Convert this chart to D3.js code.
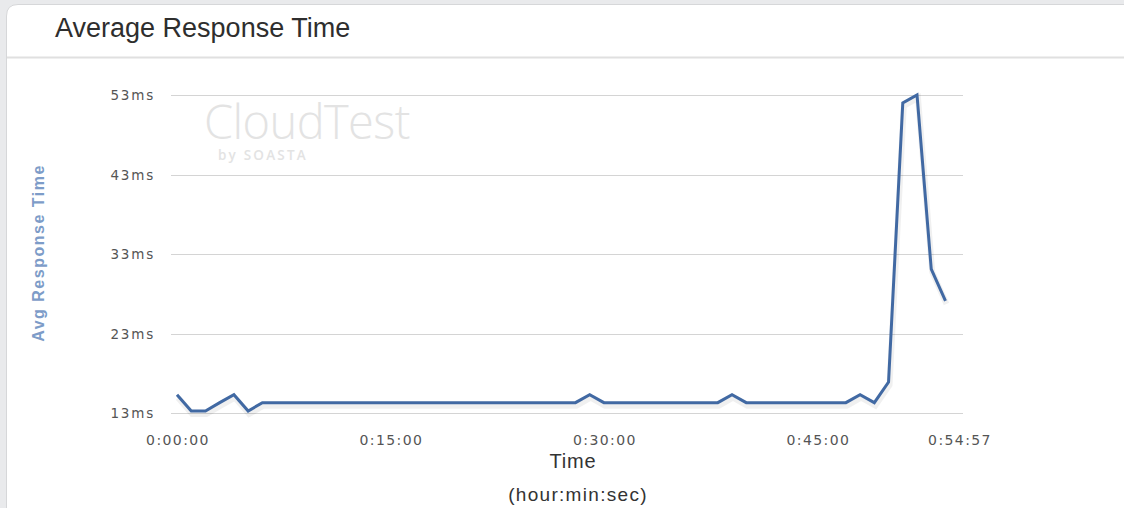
<!DOCTYPE html>
<html>
<head>
<meta charset="utf-8">
<script src="https://cdn.jsdelivr.net/npm/d3@7.9.0/dist/d3.min.js"></script>
<style>
  html, body { margin: 0; padding: 0; background: #e9eaec; }
  svg { display: block; }
</style>
</head>
<body>
<svg id="chart" width="1124" height="508"></svg>
<script>
// minutes since start of the test
const minutes = d3.range(0, 55);
// average response time in ms, one sample per minute
const avgMs = [
  15.3, 13.25, 13.25, 14.3, 15.3, 13.25, 14.3, 14.3, 14.3, 14.3,
  14.3, 14.3, 14.3, 14.3, 14.3, 14.3, 14.3, 14.3, 14.3, 14.3,
  14.3, 14.3, 14.3, 14.3, 14.3, 14.3, 14.3, 14.3, 14.3, 15.3,
  14.3, 14.3, 14.3, 14.3, 14.3, 14.3, 14.3, 14.3, 14.3, 15.3,
  14.3, 14.3, 14.3, 14.3, 14.3, 14.3, 14.3, 14.3, 15.3, 14.3,
  16.9, 52.0, 53.0, 31.1, 27.1
];
const yTicks = [13, 23, 33, 43, 53];
const xTickSecs = [0, 900, 1800, 2700, 3297];
const xTickLabels = ['0:00:00', '0:15:00', '0:30:00', '0:45:00', '0:54:57'];

const svg = d3.select('#chart');
const font = '"Liberation Sans", Arial, Helvetica, sans-serif';
const tickFont = '"DejaVu Sans", Verdana, sans-serif';

// panel card
svg.append('path')
  .attr('d', 'M6.5,514 L6.5,16 Q6.5,4.5 18,4.5 L1130,4.5 L1130,514 Z')
  .attr('fill', '#fff')
  .attr('stroke', '#d6d7d9');
svg.append('line')
  .attr('x1', 7).attr('x2', 1124).attr('y1', 57.5).attr('y2', 57.5)
  .attr('stroke', '#e0e0e0').attr('stroke-width', 2);

svg.append('text')
  .attr('x', 55).attr('y', 37)
  .attr('font-family', font).attr('font-size', 27)
  .attr('fill', '#2e2e2e')
  .text('Average Response Time');

const x = d3.scaleLinear().domain([0, 3297]).range([177, 959]);
const y = d3.scaleLinear().domain([13, 53]).range([413, 95]);

// watermark
svg.append('text')
  .attr('x', 204).attr('y', 139)
  .attr('font-family', '"Open Sans", "DejaVu Sans", sans-serif')
  .attr('font-size', 47).attr('font-weight', 300)
  .attr('letter-spacing', -0.6)
  .attr('fill', '#e3e3e3')
  .text('CloudTest');
svg.append('text')
  .attr('x', 218).attr('y', 160)
  .attr('font-family', '"Open Sans", sans-serif')
  .attr('font-size', 13.5).attr('font-weight', 600)
  .attr('letter-spacing', 2.2)
  .attr('fill', '#e3e3e3')
  .text('by SOASTA');

// grid lines
svg.append('g')
  .selectAll('line')
  .data(yTicks)
  .join('line')
  .attr('x1', x.range()[0] - 6).attr('x2', x.range()[1] + 4)
  .attr('y1', d => Math.round(y(d)) + 0.5)
  .attr('y2', d => Math.round(y(d)) + 0.5)
  .attr('stroke', '#d4d4d4').attr('stroke-width', 1.2);

// y tick labels
svg.append('g')
  .selectAll('text')
  .data(yTicks)
  .join('text')
  .attr('x', 155).attr('y', d => y(d) + 5)
  .attr('text-anchor', 'end')
  .attr('font-family', tickFont).attr('font-size', 13.5)
  .attr('letter-spacing', 1.8)
  .attr('fill', '#555')
  .text(d => d + 'ms');

// x tick labels
svg.append('g')
  .selectAll('text')
  .data(xTickSecs)
  .join('text')
  .attr('x', d => x(d) + 1).attr('y', 445)
  .attr('text-anchor', 'middle')
  .attr('font-family', tickFont).attr('font-size', 14)
  .attr('letter-spacing', 1.4)
  .attr('fill', '#555')
  .text((d, i) => xTickLabels[i]);

svg.append('text')
  .attr('x', 573).attr('y', 468)
  .attr('text-anchor', 'middle')
  .attr('font-family', font).attr('font-size', 20)
  .attr('letter-spacing', 0.8)
  .attr('fill', '#333')
  .text('Time');
svg.append('text')
  .attr('x', 578).attr('y', 501)
  .attr('text-anchor', 'middle')
  .attr('font-family', font).attr('font-size', 19)
  .attr('letter-spacing', 1.3)
  .attr('fill', '#333')
  .text('(hour:min:sec)');

svg.append('text')
  .attr('transform', 'translate(44,253) rotate(-90)')
  .attr('text-anchor', 'middle')
  .attr('font-family', font).attr('font-size', 16).attr('font-weight', 'bold')
  .attr('letter-spacing', 1.5)
  .attr('fill', '#7d9cc8')
  .text('Avg Response Time');

// series
const line = d3.line()
  .x((d, i) => x(minutes[i] * 60))
  .y(d => y(d));

svg.append('path')
  .datum(avgMs)
  .attr('fill', 'none')
  .attr('stroke', '#000').attr('stroke-opacity', 0.06)
  .attr('stroke-width', 6)
  .attr('transform', 'translate(1,3)')
  .attr('d', line);

svg.append('path')
  .datum(avgMs)
  .attr('fill', 'none')
  .attr('stroke', '#4169a3')
  .attr('stroke-width', 3)
  .attr('stroke-linejoin', 'miter')
  .attr('d', line);
</script>
</body>
</html>
